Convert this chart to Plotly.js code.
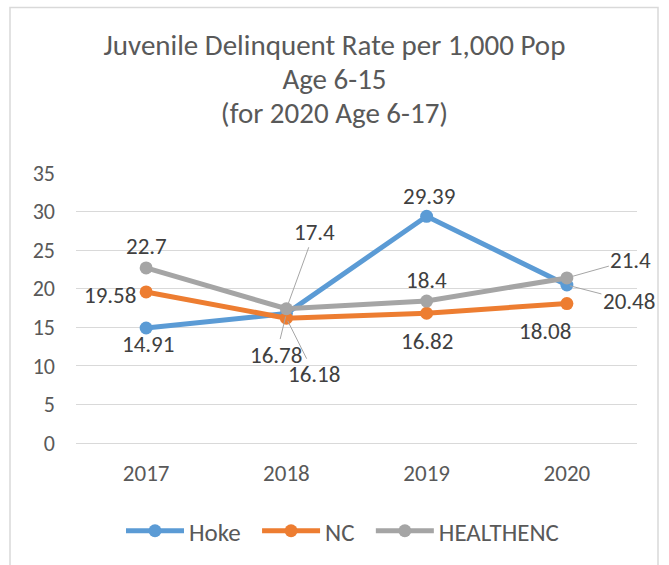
<!DOCTYPE html>
<html><head><meta charset="utf-8">
<script src="https://cdn.plot.ly/plotly-3.0.1.min.js"></script>
<style>body{margin:0;background:#fff}</style>
</head><body><div id="chart" style="width:669px;height:565px"></div>
<script>
// ---- data ----
var years = ['2017', '2018', '2019', '2020'];
var hoke = [14.91, 16.78, 29.39, 20.48];
var nc = [19.58, 16.18, 16.82, 18.08];
var healthenc = [22.7, 17.4, 18.4, 21.4];
var seriesNames = ['Hoke', 'NC', 'HEALTHENC'];

// ---- styles / label placement (pixels, text centre relative to point) ----
var colors = ['#5b9bd5', '#ed7d31', '#a5a5a5'];
var labelOffsets = [
  [[2, 16], [-10, 41], [2, -20], [62, 16]],
  [[-36, 3], [28, 56], [0, 28], [-22, 27]],
  [[0, -22], [28, -77], [0, -21], [64, -18]]
];
var leaders = [
  [false, true, false, true],
  [false, true, false, false],
  [false, true, false, true]
];
var FONT = 'Carlito, Calibri, Lato, sans-serif';
var TXT = '#595959';
var W = 669, H = 565, ML = 76, MR = 32, MT = 173, MB = 121;
var PW = W - ML - MR, PH = H - MT - MB;
var legendPad = '\u00a0\u00a0';

var allSeries = [hoke, nc, healthenc];
var traces = allSeries.map(function (vals, i) {
  return {
    x: years, y: vals,
    name: seriesNames[i] + (i < allSeries.length - 1 ? legendPad : ''),
    type: 'scatter', mode: 'lines+markers',
    line: {color: colors[i], width: 5},
    marker: {color: colors[i], size: 13},
    hoverinfo: 'skip'
  };
});

var annotations = [];
allSeries.forEach(function (vals, i) {
  vals.forEach(function (v, j) {
    var off = labelOffsets[i][j];
    var a = {
      x: j, y: v, xref: 'x', yref: 'y', text: String(v),
      font: {family: FONT, size: 23, color: '#404040'}
    };
    if (leaders[i][j]) {
      a.showarrow = true; a.ax = off[0]; a.ay = off[1];
      a.arrowhead = 0; a.arrowwidth = 1; a.arrowcolor = '#a6a6a6'; a.standoff = 3;
    } else {
      a.showarrow = false; a.xshift = off[0]; a.yshift = -off[1];
    }
    annotations.push(a);
  });
});

var layout = {
  width: W, height: H,
  margin: {l: ML, r: MR, t: MT, b: MB},
  paper_bgcolor: '#ffffff', plot_bgcolor: '#ffffff',
  font: {family: FONT, color: TXT},
  title: {
    text: '<span style="font-size:29px">Juvenile Delinquent Rate per 1,000 Pop</span><br><span style="font-size:29px">Age 6-15</span><br><span style="font-size:29px">(for 2020 Age 6-17)</span>',
    font: {family: FONT, size: 26, color: TXT},
    x: 0.5, xref: 'container', xanchor: 'center',
    y: 1 - 55 / H, yref: 'container', yanchor: 'top'
  },
  xaxis: {
    type: 'category', range: [-0.5, 3.5], showgrid: false, zeroline: false,
    showline: false, ticks: '', tickfont: {family: FONT, size: 23, color: TXT},
    ticklabelstandoff: 14, fixedrange: true
  },
  yaxis: {
    range: [0, 35], dtick: 5, tick0: 0, showgrid: true, gridcolor: '#d9d9d9', gridwidth: 1,
    zeroline: true, zerolinecolor: '#d9d9d9', zerolinewidth: 1, showline: false, ticks: '',
    tickfont: {family: FONT, size: 22, color: TXT}, ticklabelstandoff: 20, fixedrange: true
  },
  legend: {
    orientation: 'h', x: (121 - ML) / PW, xanchor: 'left',
    y: (0 - (531 - (H - MB))) / PH, yanchor: 'middle',
    font: {family: FONT, size: 25, color: TXT}, itemwidth: 58, bgcolor: 'rgba(0,0,0,0)'
  },
  showlegend: true,
  annotations: annotations,
  shapes: [{
    type: 'rect', xref: 'paper', yref: 'paper', layer: 'below',
    x0: (10 - ML) / PW, x1: (658 - ML) / PW,
    y0: -(H + 10 - (H - MB)) / PH, y1: ((H - MB) - 7) / PH,
    line: {color: '#d9d9d9', width: 1.5}, fillcolor: 'rgba(0,0,0,0)'
  }]
};

Plotly.newPlot('chart', traces, layout, {displayModeBar: false});
</script></body></html>
